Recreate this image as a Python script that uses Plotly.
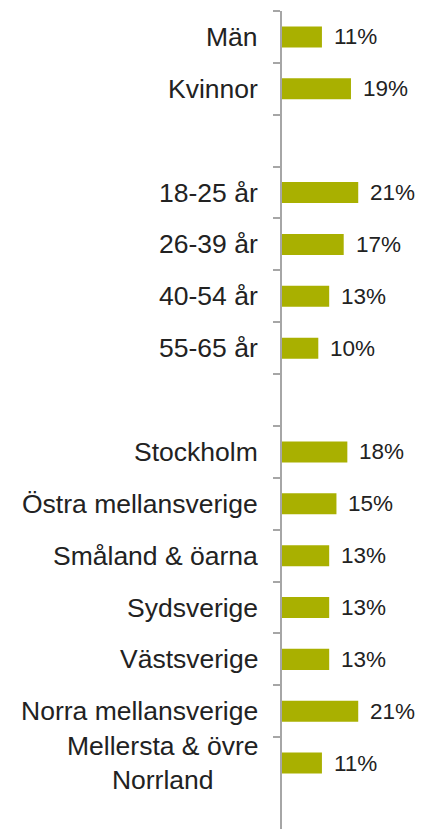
import plotly.graph_objects as go

categories = ["Män", "Kvinnor", " ", "18-25 år", "26-39 år", "40-54 år", "55-65 år", "  ",
              "Stockholm", "Östra mellansverige", "Småland & öarna", "Sydsverige",
              "Västsverige", "Norra mellansverige", "Mellersta & övre<br>Norrland"]
values = [11, 19, None, 21, 17, 13, 10, None, 18, 15, 13, 13, 13, 21, 11]
value_labels = ["11%", "19%", "", "21%", "17%", "13%", "10%", "",
                "18%", "15%", "13%", "13%", "13%", "21%", "11%"]

BAR = "#A9B000"
FONT = "Liberation Sans, Arial, sans-serif"

fig = go.Figure()
fig.add_trace(go.Bar(
    y=categories, x=values, orientation="h",
    marker=dict(color=BAR, line=dict(width=0)),
    hoverinfo="skip",
))

annotations = []
for cat, v, lab in zip(categories, values, value_labels):
    if cat.strip():
        annotations.append(dict(
            x=0, xref="paper", y=cat, yref="y", text=cat, showarrow=False,
            xanchor="right", yanchor="middle", align="center", xshift=-22,
            font=dict(family=FONT, size=26.5, color="#222222"),
        ))
    if v is not None:
        annotations.append(dict(
            x=v, xref="x", y=cat, yref="y", text=lab, showarrow=False,
            xanchor="left", yanchor="middle", xshift=10,
            font=dict(family=FONT, size=22.5, color="#222222"),
        ))

# page body has an 8px margin; keep the page within the window (no scrollbars)
OFF = 8
W, H = 424 - OFF, 837 - 2 * OFF
top = 11 - OFF
left = 282 - OFF
step = 51.87
plot_h = H - top
y_lo = -0.5 + plot_h / step

fig.update_layout(
    width=W, height=H,
    margin=dict(l=left, r=0, t=top, b=0, pad=0),
    paper_bgcolor="white", plot_bgcolor="white",
    showlegend=False,
    bargap=0.595,
    annotations=annotations,
    xaxis=dict(range=[0, (W - left) / 3.63], visible=False, fixedrange=True),
    yaxis=dict(
        type="category", categoryorder="array", categoryarray=categories,
        range=[y_lo, -0.5],
        showticklabels=False, showgrid=False, zeroline=False,
        showline=True, linecolor="#a6a6a6", linewidth=2,
        ticks="outside", tickson="boundaries", ticklen=7,
        tickcolor="#a6a6a6", tickwidth=2,
    ),
)

fig.write_html("out.html")
